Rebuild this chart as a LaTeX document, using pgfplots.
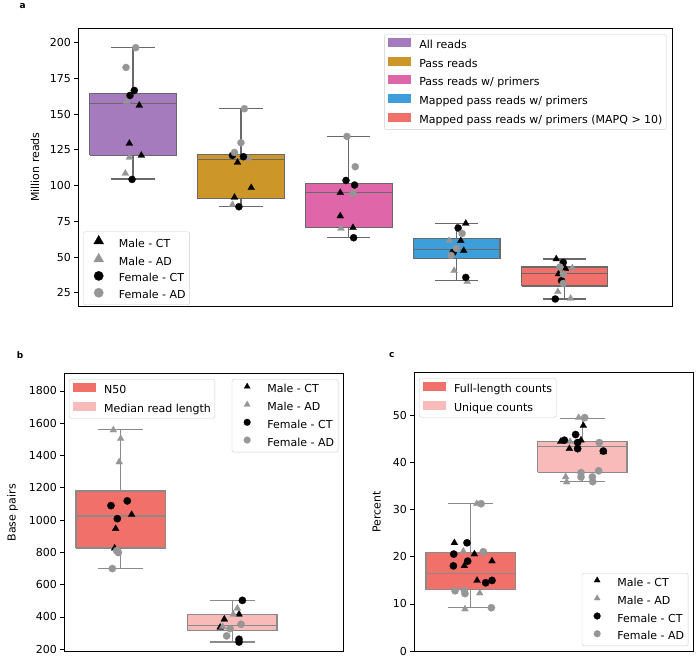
\documentclass[border=0pt]{standalone}
\usepackage{fontspec}
\setmainfont{DejaVu Sans}
\usepackage{pgfplots}
\pgfplotsset{compat=1.18}

\definecolor{cAll}{RGB}{166,123,190}
\definecolor{cPass}{RGB}{205,150,40}
\definecolor{cPrim}{RGB}{224,102,170}
\definecolor{cMap}{RGB}{60,158,218}
\definecolor{cMapq}{RGB}{242,112,106}
\definecolor{cLight}{RGB}{248,187,185}
\definecolor{mgray}{RGB}{150,150,150}
\definecolor{edgeA}{RGB}{105,105,105}
\definecolor{edgeB}{RGB}{138,138,138}

\newcommand{\txt}{\fontsize{11}{13}\selectfont}

\pgfplotsset{
  panel/.style={
    scale only axis, anchor=south west, clip=false,
    xtick=\empty, ytick pos=left, tick align=outside,
    major tick length=3.9pt,
    axis line style={black, line width=0.9pt},
    tick style={black, line width=0.9pt},
    tick label style={font=\txt},
    label style={font=\txt},
    /pgf/number format/assume math mode=true,
    /pgf/number format/1000 sep={},
    legend cell align=left,
    legend style={draw=black!20, rounded corners=2pt, fill=white,
      fill opacity=0.8, text opacity=1, font=\txt,
      row sep=5.8pt, inner xsep=4pt, inner ysep=3.5pt,
      nodes={text height=8pt, text depth=2.5pt, inner sep=0pt},
      /tikz/every odd column/.append style={column sep=8.5pt}},
  },
  legax/.style={scale only axis, anchor=south west, hide axis,
    xmin=0, xmax=1, ymin=0, ymax=1,
    legend cell align=left,
    legend style={draw=black!20, rounded corners=2pt, fill=white,
      fill opacity=0.8, text opacity=1, font=\txt,
      row sep=5.8pt, inner xsep=4pt, inner ysep=3.5pt,
      nodes={text height=8pt, text depth=2.5pt, inner sep=0pt},
      /tikz/every odd column/.append style={column sep=9pt}}},
  pleg/.style={legend image code/.code={%
    \fill[#1, sharp corners, fill opacity=1] (0pt,-0.3pt) rectangle (22pt,7.5pt);}},
  mleg/.style n args={3}{legend image code/.code={%
    \path (0pt,3pt) (22pt,3pt);
    \path[fill opacity=1] plot[mark=#1, mark size=#3,
      mark options={draw=#2, fill=#2, line width=0.2pt, sharp corners}]
      coordinates {(11pt,3.3pt)};}},
  pts/.style n args={3}{only marks, mark=#1, mark size=#3, color=#2,
    mark options={draw=#2, fill=#2, line width=0.2pt}, forget plot},
  bx/.style={forget plot, line width=1.1pt, mark=none},
  wh/.style={forget plot, line width=1.1pt, mark=none, draw=#1,
    unbounded coords=jump},
}

\begin{document}
\begin{tikzpicture}
\useasboundingbox (0,0) rectangle (700pt,664pt);

% ---------------- panel a ----------------
\begin{axis}[panel, at={(78.3pt,358pt)}, width=594.4pt, height=277.7pt,
  xmin=-0.507, xmax=5.0, ymin=15.7, ymax=210.1,
  ytick={25,50,...,200},
  ylabel={Million reads},
  ylabel style={at={(axis description cs:-0.0728,0.5)}, anchor=center},
  legend style={at={(axis description cs:1,1)}, anchor=north east,
    xshift=-6pt, yshift=-6pt}]
% boxes: lower quartile to upper quartile
\addplot[bx, draw=edgeA, fill=cAll] coordinates
  {(-0.4,121.2) (0.4,121.2) (0.4,164.6) (-0.4,164.6) (-0.4,121.2)};
\addplot[wh=edgeA] coordinates {(0,164.6) (0,196.5) (0,nan)
  (-0.2,196.5) (0.2,196.5) (0,nan) (0,121.2) (0,104.6) (0,nan)
  (-0.2,104.6) (0.2,104.6) (0,nan) (-0.4,157.6) (0.4,157.6)};
\addplot[bx, draw=edgeA, fill=cPass] coordinates
  {(0.6,90.8) (1.4,90.8) (1.4,121.6) (0.6,121.6) (0.6,90.8)};
\addplot[wh=edgeA] coordinates {(1,121.6) (1,153.8) (1,nan)
  (0.8,153.8) (1.2,153.8) (1,nan) (1,90.8) (1,85.2) (1,nan)
  (0.8,85.2) (1.2,85.2) (1,nan) (0.6,118.3) (1.4,118.3)};
\addplot[bx, draw=edgeA, fill=cPrim] coordinates
  {(1.6,70.5) (2.4,70.5) (2.4,101.3) (1.6,101.3) (1.6,70.5)};
\addplot[wh=edgeA] coordinates {(2,101.3) (2,134.4) (2,nan)
  (1.8,134.4) (2.2,134.4) (2,nan) (2,70.5) (2,63.5) (2,nan)
  (1.8,63.5) (2.2,63.5) (2,nan) (1.6,95.0) (2.4,95.0)};
\addplot[bx, draw=edgeA, fill=cMap] coordinates
  {(2.6,48.8) (3.4,48.8) (3.4,62.8) (2.6,62.8) (2.6,48.8)};
\addplot[wh=edgeA] coordinates {(3,62.8) (3,73.5) (3,nan)
  (2.8,73.5) (3.2,73.5) (3,nan) (3,48.8) (3,33.4) (3,nan)
  (2.8,33.4) (3.2,33.4) (3,nan) (2.6,55.3) (3.4,55.3)};
\addplot[bx, draw=edgeA, fill=cMapq] coordinates
  {(3.6,29.7) (4.4,29.7) (4.4,43.0) (3.6,43.0) (3.6,29.7)};
\addplot[wh=edgeA] coordinates {(4,43.0) (4,48.6) (4,nan)
  (3.8,48.6) (4.2,48.6) (4,nan) (4,29.7) (4,20.6) (4,nan)
  (3.8,20.6) (4.2,20.6) (4,nan) (3.6,38.3) (4.4,38.3)};
% male - CT
\addplot[pts={triangle*}{black}{4pt}] table {
x y
0.058 156.1
-0.034 129.5
0.077 121.1
0.968 116.2
1.095 98.5
0.940 91.7
1.920 95.0
1.920 78.7
2.038 70.5
3.083 73.5
3.036 61.4
3.064 54.4
3.921 48.6
4.007 41.8
3.942 38.1
};
% male - AD
\addplot[pts={triangle*}{mgray}{4pt}] table {
x y
-0.058 158.7
-0.034 119.7
-0.071 108.5
1.070 119.0
0.921 86.6
1.927 70.0
2.929 61.4
2.975 40.4
3.096 32.7
4.070 42.3
3.936 25.7
4.054 21.0
};
% female - CT
\addplot[pts={*}{black}{3.6pt}] table {
x y
0.012 166.6
-0.028 163.1
-0.009 104.3
0.921 121.1
1.023 120.2
0.981 85.2
1.973 103.6
2.053 100.4
2.044 63.5
3.012 70.3
2.966 53.2
3.083 35.7
3.986 46.2
3.970 33.4
3.912 20.6
};
% female - AD
\addplot[pts={*}{mgray}{3.6pt}] table {
x y
0.025 196.5
-0.065 182.7
1.032 153.8
1.000 130.0
0.940 123.2
1.982 134.4
2.059 113.2
2.038 94.5
3.049 66.5
2.996 56.0
2.947 51.1
3.955 43.0
3.986 38.1
3.986 31.5
};
\addlegendimage{pleg=cAll}\addlegendentry{All reads}
\addlegendimage{pleg=cPass}\addlegendentry{Pass reads}
\addlegendimage{pleg=cPrim}\addlegendentry{Pass reads w/ primers}
\addlegendimage{pleg=cMap}\addlegendentry{Mapped pass reads w/ primers}
\addlegendimage{pleg=cMapq}\addlegendentry{Mapped pass reads w/ primers (MAPQ > 10)}
\end{axis}
\begin{axis}[legax, at={(78.3pt,358pt)}, width=594.4pt, height=277.7pt,
  legend style={at={(axis description cs:0,0)}, anchor=south west,
    xshift=5pt, yshift=1pt, row sep=3.6pt}]
\addlegendimage{mleg={triangle*}{black}{5.8pt}}\addlegendentry{Male - CT}
\addlegendimage{mleg={triangle*}{mgray}{5.8pt}}\addlegendentry{Male - AD}
\addlegendimage{mleg={*}{black}{4.7pt}}\addlegendentry{Female - CT}
\addlegendimage{mleg={*}{mgray}{4.7pt}}\addlegendentry{Female - AD}
\end{axis}

% ---------------- panel b ----------------
\begin{axis}[panel, at={(64.3pt,12.3pt)}, width=279pt, height=278pt,
  xmin=-0.505, xmax=1.994, ymin=185, ymax=1907,
  ytick={200,400,...,1800},
  ylabel={Base pairs},
  ylabel style={at={(axis description cs:-0.185,0.5)}, anchor=center},
  legend style={at={(axis description cs:0,1)}, anchor=north west,
    xshift=4.7pt, yshift=-5.6pt}]
\addplot[bx, draw=edgeB, fill=cMapq] coordinates
  {(-0.4,827.6) (0.4,827.6) (0.4,1180.6) (-0.4,1180.6) (-0.4,827.6)};
\addplot[wh=edgeB] coordinates {(0,1180.6) (0,1560.5) (0,nan)
  (-0.2,1560.5) (0.2,1560.5) (0,nan) (0,827.6) (0,699.6) (0,nan)
  (-0.2,699.6) (0.2,699.6) (0,nan) (-0.4,1025.8) (0.4,1025.8)};
\addplot[bx, draw=edgeB, fill=cLight] coordinates
  {(0.6,313.6) (1.4,313.6) (1.4,416.8) (0.6,416.8) (0.6,313.6)};
\addplot[wh=edgeB] coordinates {(1,416.8) (1,503.5) (1,nan)
  (0.8,503.5) (1.2,503.5) (1,nan) (1,313.6) (1,245.4) (1,nan)
  (0.8,245.4) (1.2,245.4) (1,nan) (0.6,346.6) (1.4,346.6)};
\addplot[pts={triangle*}{black}{4pt}] table {
x y
0.098 1034
-0.045 947
-0.054 826
0.928 386
1.060 417
0.891 336
};
\addplot[pts={triangle*}{mgray}{4pt}] table {
x y
-0.066 1558
0.000 1505
-0.013 1360
1.045 454
1.009 417
0.913 340
};
\addplot[pts={*}{black}{3.7pt}] table {
x y
0.059 1119
-0.087 1090
-0.030 1009
1.090 503
1.060 262
1.060 245
};
\addplot[pts={*}{mgray}{3.7pt}] table {
x y
-0.036 811
-0.021 799
-0.075 700
1.078 355
0.980 328
0.949 283
};
\addlegendimage{pleg=cMapq}\addlegendentry{N50}
\addlegendimage{pleg=cLight}\addlegendentry{Median read length}
\end{axis}
\begin{axis}[legax, at={(64.3pt,12.3pt)}, width=279pt, height=278pt,
  legend style={at={(axis description cs:1,1)}, anchor=north east,
    xshift=-5pt, yshift=-5.6pt}]
\addlegendimage{mleg={triangle*}{black}{3.6pt}}\addlegendentry{Male - CT}
\addlegendimage{mleg={triangle*}{mgray}{3.6pt}}\addlegendentry{Male - AD}
\addlegendimage{mleg={*}{black}{3.4pt}}\addlegendentry{Female - CT}
\addlegendimage{mleg={*}{mgray}{3.4pt}}\addlegendentry{Female - AD}
\end{axis}

% ---------------- panel c ----------------
\begin{axis}[panel, at={(414.3pt,13pt)}, width=279pt, height=278.3pt,
  xmin=-0.505, xmax=1.994, ymin=0, ymax=59.15,
  ytick={0,10,...,50},
  ylabel={Percent},
  ylabel style={at={(axis description cs:-0.135,0.5)}, anchor=center},
  legend style={at={(axis description cs:0,1)}, anchor=north west,
    xshift=4.7pt, yshift=-5.6pt}]
\addplot[bx, draw=edgeB, fill=cMapq] coordinates
  {(-0.4,13.05) (0.4,13.05) (0.4,20.9) (-0.4,20.9) (-0.4,13.05)};
\addplot[wh=edgeB] coordinates {(0,20.9) (0,31.3) (0,nan)
  (-0.2,31.3) (0.2,31.3) (0,nan) (0,13.05) (0,9.2) (0,nan)
  (-0.2,9.2) (0.2,9.2) (0,nan) (-0.4,16.5) (0.4,16.5)};
\addplot[bx, draw=edgeB, fill=cLight] coordinates
  {(0.6,38.0) (1.4,38.0) (1.4,44.5) (0.6,44.5) (0.6,38.0)};
\addplot[wh=edgeB] coordinates {(1,44.5) (1,49.5) (1,nan)
  (0.8,49.5) (1.2,49.5) (1,nan) (1,38.0) (1,36.0) (1,nan)
  (0.8,36.0) (1.2,36.0) (1,nan) (0.6,43.4) (1.4,43.4)};
\addplot[pts={triangle*}{black}{4pt}] table {
x y
-0.146 23.0
0.033 20.6
0.191 19.1
-0.057 18.1
0.057 15.0
1.009 47.9
0.806 44.5
0.988 44.8
0.884 43.0
1.188 42.3
};
\addplot[pts={triangle*}{mgray}{4pt}] table {
x y
0.054 31.3
-0.066 21.2
0.081 12.3
-0.051 8.9
0.967 49.6
0.890 44.5
0.851 37.0
0.860 35.9
};
\addplot[pts={*}{black}{3.7pt}] table {
x y
-0.033 23.0
-0.152 20.6
-0.027 19.1
-0.155 18.1
0.134 14.5
0.191 15.0
0.940 46.0
0.839 44.8
0.958 44.3
0.958 43.0
1.188 42.5
};
\addplot[pts={*}{mgray}{3.7pt}] table {
x y
0.093 31.3
0.113 21.1
-0.140 12.8
-0.057 12.9
-0.051 12.2
0.185 9.2
1.021 49.6
1.152 44.3
1.146 38.3
0.988 37.9
0.988 37.0
1.090 37.0
1.093 36.0
};
\addlegendimage{pleg=cMapq}\addlegendentry{Full-length counts}
\addlegendimage{pleg=cLight}\addlegendentry{Unique counts}
\end{axis}
\begin{axis}[legax, at={(414.3pt,13pt)}, width=279pt, height=278.3pt,
  legend style={at={(axis description cs:1,0)}, anchor=south east,
    xshift=-5pt, yshift=5pt}]
\addlegendimage{mleg={triangle*}{black}{3.6pt}}\addlegendentry{Male - CT}
\addlegendimage{mleg={triangle*}{mgray}{3.6pt}}\addlegendentry{Male - AD}
\addlegendimage{mleg={*}{black}{3.4pt}}\addlegendentry{Female - CT}
\addlegendimage{mleg={*}{mgray}{3.4pt}}\addlegendentry{Female - AD}
\end{axis}

\node[font=\bfseries\fontsize{9}{10}\selectfont] at (22.7pt,658.3pt) {a};
\node[font=\bfseries\fontsize{9}{10}\selectfont] at (20pt,309pt) {b};
\node[font=\bfseries\fontsize{9}{10}\selectfont] at (391.7pt,309pt) {c};
\end{tikzpicture}
\end{document}
